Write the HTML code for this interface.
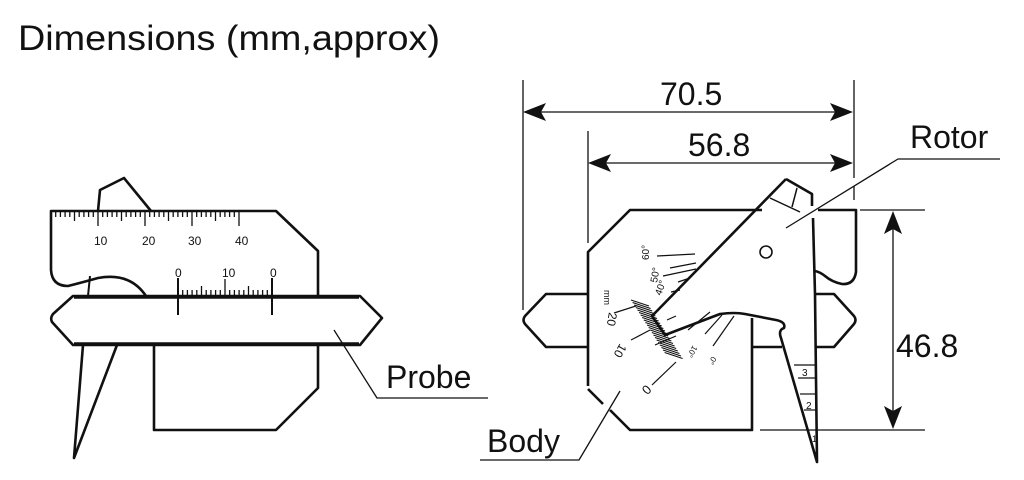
<!DOCTYPE html>
<html><head><meta charset="utf-8"><style>
html,body{margin:0;padding:0;background:#fff;}
svg{display:block;}
text{font-family:"Liberation Sans",sans-serif;fill:#111;}
</style></head><body>
<svg width="1024" height="480" viewBox="0 0 1024 480" xmlns="http://www.w3.org/2000/svg">
<text x="18" y="50" font-size="35" textLength="422" lengthAdjust="spacingAndGlyphs">Dimensions (mm,approx)</text>

<g fill="none" stroke="#111" stroke-width="2.6" stroke-linejoin="round">
<!-- LEFT FIGURE -->
<path d="M98,211 L100,190 L124,178 L151,211"/>
<path d="M146,296 Q130,272 98,278 Q80,283 68,286 Q52,286 51,270 L51,211 L276,211 L318,251 L318,297"/>
<line x1="90" y1="276" x2="88" y2="296" stroke-width="2"/>
<!-- probe -->
<path d="M73,296 L360,296 L382,318 L360,345 L73,345 L52,322 Q50,318 53,314 Z"/>
<line x1="74" y1="297.5" x2="359" y2="297.5" stroke-width="2.5"/>
<line x1="74" y1="343.5" x2="359" y2="343.5" stroke-width="2.5"/>
<!-- lower box -->
<path d="M154,345 L154,430 L276,430 L318,388 L318,345"/>
<!-- legs -->
<path d="M83,345 L74,458 L117,345"/>
<!-- vernier long lines -->
<line x1="178" y1="278" x2="178" y2="315" stroke-width="2"/>
<line x1="272" y1="278" x2="272" y2="315" stroke-width="2"/>
<!-- probe leader -->
<path d="M334,330 L377,398 L488,398" stroke-width="1.3"/>

<!-- RIGHT FIGURE -->
<path d="M588,386 L588,252 L630,210 L762,210"/>
<path d="M752,318 L752,430 L630,430 L610,410"/>
<path d="M603,404 L588,389"/>
<path d="M588,294 L546,294 L525,316 Q522,320 525,324 L546,347 L588,347"/>
<path d="M815,294 L834,294 L854,316 Q857,320 854,324 L834,347 L815,347"/>
<path d="M752,347 L782,347"/>
<path d="M818,210 L856,210 L856,272 Q854,285 842,284 Q832,282 825,276 Q820,272 815,271"/>
<!-- rotor -->
<path d="M786,179 L812,194 L812,206"/>
<path d="M813,218 L815,294 L817,462 L781,338 Q778,330 784,328 Q786,322 776,320 L745,314 Q735,312 720,314 L665,335 L652,316 L786,179"/>
<line x1="770" y1="198" x2="800" y2="212" stroke-width="1.5"/>
<line x1="797" y1="188" x2="792" y2="207" stroke-width="1.5"/>
<circle cx="766" cy="252" r="6" stroke-width="1.6"/>
<g stroke-width="1.2">
<line x1="794" y1="365" x2="815" y2="365"/><line x1="798" y1="378" x2="815" y2="378"/>
<line x1="800" y1="394" x2="816" y2="394"/><line x1="804" y1="410" x2="816" y2="410"/>
</g>
<g stroke-width="1.3">
<line x1="523" y1="80" x2="523" y2="310"/>
<line x1="854" y1="80" x2="854" y2="178"/>
<line x1="854" y1="186" x2="854" y2="200"/>
<line x1="588" y1="131" x2="588" y2="243"/>
<line x1="530" y1="112" x2="846" y2="112"/>
<line x1="596" y1="163" x2="846" y2="163"/>
<line x1="860" y1="210" x2="925" y2="210"/>
<line x1="760" y1="430" x2="925" y2="430"/>
<line x1="893" y1="220" x2="893" y2="420"/>
<path d="M786,228 L898,159 L1000,159"/>
<path d="M620,391 L579,460 L480,460"/>
</g>
</g>
<g fill="#111">
<path d="M523,112 L546,103 L541,112 L546,121 Z"/>
<path d="M853,112 L830,103 L835,112 L830,121 Z"/>
<path d="M588,163 L611,154 L606,163 L611,172 Z"/>
<path d="M853,163 L830,154 L835,163 L830,172 Z"/>
<path d="M893,211 L884,234 L893,229 L902,234 Z"/>
<path d="M893,429 L884,406 L893,411 L902,406 Z"/>
</g>
<g stroke="#111" stroke-width="1.3" id="ticks"></g>
<g stroke="#111" stroke-width="1.1" id="hatch"></g>
<g font-size="12">
<text x="94" y="245">10</text><text x="142" y="245">20</text><text x="188" y="245">30</text><text x="235" y="245">40</text>
<text x="175" y="277">0</text><text x="222" y="277">10</text><text x="270" y="277">0</text>
<text x="802" y="376" font-size="10">3</text><text x="806" y="409" font-size="10">2</text><text x="812" y="442" font-size="9">1</text>
</g>
<g stroke="#111" stroke-width="1.2">
<line x1="657" y1="256" x2="695" y2="254"/>
<line x1="670" y1="268" x2="696" y2="263"/>
<line x1="663" y1="276" x2="696" y2="269"/>
<line x1="678" y1="282" x2="690" y2="278"/>
<line x1="671" y1="292" x2="680" y2="290"/>
<line x1="614" y1="313" x2="636" y2="306"/>
<line x1="631" y1="340" x2="650" y2="330"/>
<line x1="655" y1="345" x2="676" y2="336"/>
<line x1="652" y1="385" x2="676" y2="362"/>
<line x1="667" y1="320" x2="676" y2="316"/>
<line x1="688" y1="330" x2="710" y2="312"/>
<line x1="705" y1="334" x2="722" y2="315"/>
<line x1="713" y1="346" x2="734" y2="316"/>
</g>
<g font-size="10">
<text transform="translate(649,260) rotate(-90)">60°</text>
<text transform="translate(657,283) rotate(-80)">50°</text>
<text transform="translate(661,296) rotate(-70)">40°</text>
<text transform="translate(604,290) rotate(90)" font-size="9">mm</text>
<text transform="translate(609,312) rotate(100)" font-size="12">20</text>
<text transform="translate(620,343) rotate(120)" font-size="12">10</text>
<text transform="translate(646,384) rotate(135)" font-size="13">0</text>
<text transform="translate(693,345) rotate(120)" font-size="8">10°</text>
<text transform="translate(712,356) rotate(120)" font-size="8">0°</text>
</g>
<text x="910" y="148" font-size="32">Rotor</text>
<text x="896" y="357" font-size="32">46.8</text>
<text x="660" y="105" font-size="32">70.5</text>
<text x="688" y="156" font-size="32">56.8</text>
<text x="386" y="388" font-size="32">Probe</text>
<text x="487" y="452" font-size="32">Body</text>
<script>
var ns="http://www.w3.org/2000/svg",g=document.getElementById("ticks");
function L(p,a,b,c,d){var l=document.createElementNS(ns,"line");l.setAttribute("x1",a);l.setAttribute("y1",b);l.setAttribute("x2",c);l.setAttribute("y2",d);p.appendChild(l);}
for(var i=1;i<=40;i++){var x=51+i*4.7;var h=i%10==0?15:(i%5==0?10:6);L(g,x,211,x,211+h);}
for(var i=0;i<=20;i++){var x=178+i*4.7;var h=i%10==0?18:(i%5==0?11:7);L(g,x,297,x,297-h);}
var hh=document.getElementById("hatch");
for(var i=0;i<22;i++){var x=631+i*1.6,y=300+i*2.5;L(hh,x,y,x+18,y+6);}
</script>
</svg>
</body></html>
